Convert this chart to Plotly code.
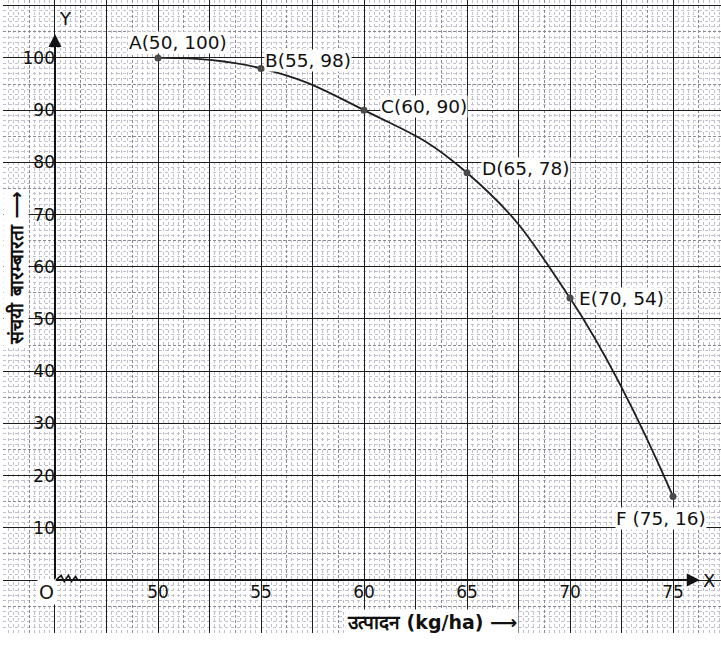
import plotly.graph_objects as go

# ---- data ----
production = [50, 55, 60, 65, 70, 75]          # उत्पादन (kg/ha)
cum_freq = [100, 98, 90, 78, 54, 16]           # संचयी बारम्बारता
point_names = ["A", "B", "C", "D", "E", "F"]
x_tick_vals = [50, 55, 60, 65, 70, 75]
y_tick_vals = [10, 20, 30, 40, 50, 60, 70, 80, 90, 100]
x_title = "उत्पादन (kg/ha) ⟶"
y_title = "संचयी बारम्बारता ⟶"

# ---- layout constants ----
XR = [42.476, 77.33]
YR = [-10.15, 111.1]
FONT = "DejaVu Sans, Arial, sans-serif"

fig = go.Figure()

fig.add_trace(go.Scatter(
    x=production, y=cum_freq, mode="lines+markers",
    line=dict(shape="spline", smoothing=1.3, color="#1e1e1e", width=1.8),
    marker=dict(size=7, color="#4a4a4a"),
    xaxis="x3", yaxis="y3", hoverinfo="skip", showlegend=False))
for xa, ya in (("x", "y"), ("x2", "y2")):
    fig.add_trace(go.Scatter(x=production, y=cum_freq, mode="markers",
                             marker=dict(opacity=0), xaxis=xa, yaxis=ya,
                             hoverinfo="skip", showlegend=False))

base = dict(showticklabels=False, ticks="", zeroline=False, showline=False,
            automargin=False)
fig.update_layout(
    width=721, height=670,
    margin=dict(l=3, r=0, t=0, b=37, autoexpand=False),
    paper_bgcolor="white", plot_bgcolor="white",
    font=dict(family=FONT, color="#111"),
    xaxis=dict(range=XR, tick0=45, dtick=1.25, showgrid=True,
               gridcolor="#8a8a96", gridwidth=1, griddash="3px,2px",
               minor=dict(tick0=45, dtick=0.25, showgrid=True, gridcolor="#c0c0ce",
                          gridwidth=1, griddash="dot"), **base),
    yaxis=dict(range=YR, tick0=0, dtick=5, showgrid=True,
               gridcolor="#8a8a96", gridwidth=1, griddash="3px,2px",
               minor=dict(tick0=0, dtick=1, showgrid=True, gridcolor="#c0c0ce",
                          gridwidth=1, griddash="dot"), **base),
    xaxis2=dict(range=XR, overlaying="x", tick0=45, dtick=2.5, showgrid=True,
                gridcolor="#1c1c1c", gridwidth=1.4, **base),
    yaxis2=dict(range=YR, overlaying="y", tick0=0, dtick=10, showgrid=True,
                gridcolor="#1c1c1c", gridwidth=1.4, **base),
    xaxis3=dict(range=XR, overlaying="x", anchor="free",
                position=(0 - YR[0]) / (YR[1] - YR[0]), side="bottom",
                tickvals=x_tick_vals, ticks="", showgrid=False, zeroline=False,
                showline=False, automargin=False, tickfont=dict(size=17, color="#111")),
    yaxis3=dict(range=YR, overlaying="y", anchor="free",
                position=(45 - XR[0]) / (XR[1] - XR[0]), side="left",
                tickvals=y_tick_vals, ticks="", showgrid=False, zeroline=False,
                showline=False, automargin=False, tickfont=dict(size=17, color="#111")),
)

fig.add_annotation(x=45, y=104.6, ax=45, ay=0, xref="x", yref="y", axref="x", ayref="y",
                   text="", showarrow=True, arrowhead=2, arrowsize=1.3, arrowwidth=2,
                   arrowcolor="#111")
fig.add_annotation(x=76.3, y=0, ax=45, ay=0, xref="x", yref="y", axref="x", ayref="y",
                   text="", showarrow=True, arrowhead=2, arrowsize=1.3, arrowwidth=2,
                   arrowcolor="#111")
fig.add_shape(type="path", xref="x", yref="y",
              path="M 45.05,0 L 45.3,0.9 L 45.45,-0.3 L 45.65,0.9 L 45.8,-0.3 L 46.0,0.7 L 46.1,0",
              line=dict(color="#111", width=1.6))

fig.add_annotation(x=45.5, y=107.6, xref="x", yref="y", text="Y", showarrow=False,
                   font=dict(size=18, color="#111"))
fig.add_annotation(x=76.75, y=0, xref="x", yref="y", text="X", showarrow=False,
                   font=dict(size=18, color="#111"))
fig.add_annotation(x=44.6, y=-2.3, xref="x", yref="y", text="O", showarrow=False,
                   font=dict(size=19, color="#111"), bgcolor="white")

offsets = [(20, 15, "center"), (3, 8, "left"), (16, 4, "left"),
           (14, 4, "left"), (8, 0, "left"), (-12, -22, "center")]
for nm, xv, yv, (dx, dy, xa) in zip(point_names, production, cum_freq, offsets):
    sep = " " if nm == "F" else ""
    fig.add_annotation(x=xv, y=yv, xref="x3", yref="y3",
                       text=f"{nm}{sep}({xv}, {yv})", showarrow=False,
                       xanchor=xa, yanchor="middle", xshift=dx, yshift=dy,
                       font=dict(size=18.5, color="#111"), bgcolor="white", borderpad=0)

fig.add_annotation(x=43.1, y=59.8, xref="x", yref="y", text=f"<b>{y_title}</b>",
                   textangle=-90, showarrow=False, font=dict(size=19, color="#111"),
                   bgcolor="white")
fig.add_annotation(x=63.3, y=-8.05, xref="x", yref="y", text=f"<b>{x_title}</b>",
                   showarrow=False, font=dict(size=19, color="#111"), bgcolor="white")

fig.write_html("out.html", config={"displayModeBar": False},
               post_script="document.body.style.margin='0';document.body.style.padding='0';")
